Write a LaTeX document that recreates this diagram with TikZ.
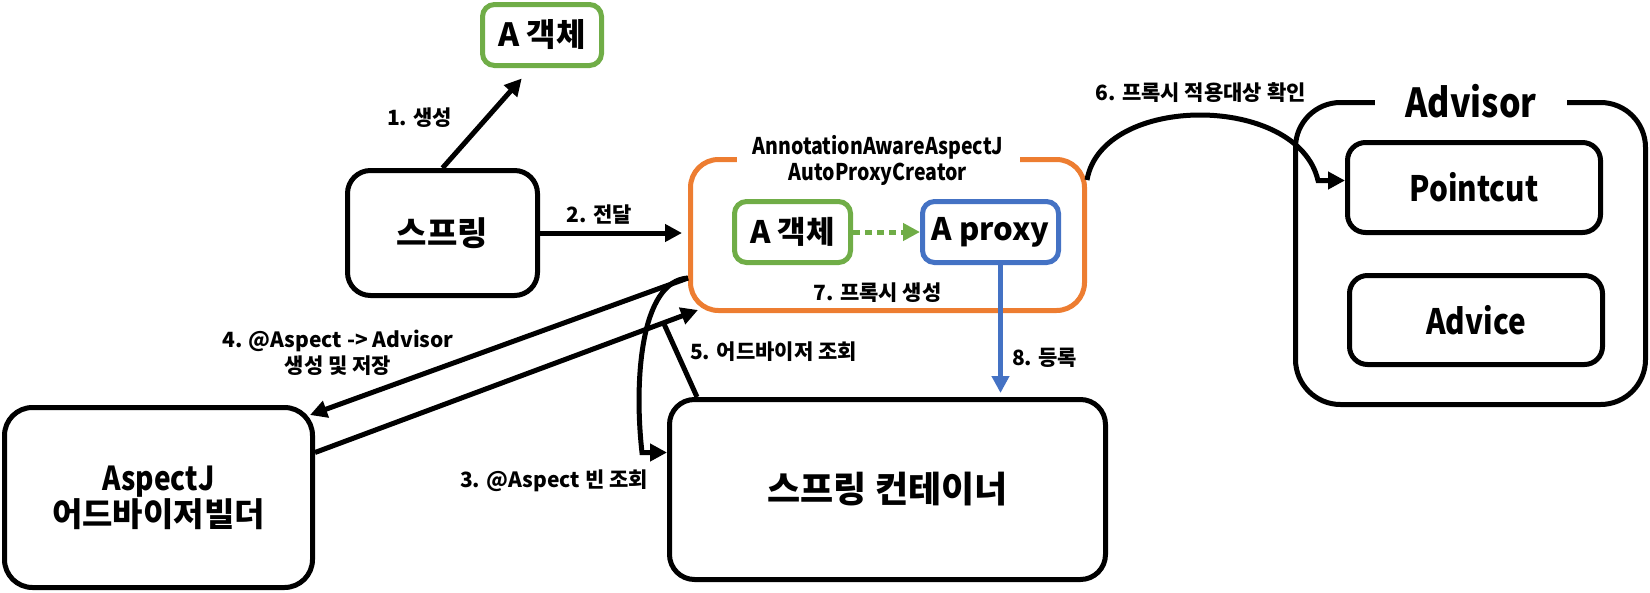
\documentclass[tikz,border=0pt]{standalone}
\usepackage{fontspec}
\setmainfont{Noto Sans CJK KR}
\newfontfamily\lat{Noto Sans CJK KR}[FakeStretch=0.85]
\usetikzlibrary{arrows.meta}
\definecolor{grn}{HTML}{70AD47}
\definecolor{org}{HTML}{ED7D31}
\definecolor{blu}{HTML}{4472C4}
\newcommand{\fsz}[1]{\fontsize{#1}{#1}\selectfont}

\begin{document}
\begin{tikzpicture}[x=1pt,y=-1pt,
  box/.style={draw,line width=5pt,rounded corners=#1,align=center},
  box/.default=24pt,
  lbl/.style={font=\bfseries\fontsize{21}{26}\selectfont,align=center,inner sep=0pt},
  arr/.style={line width=5pt,-{Triangle[length=17pt,width=17pt]}}]

\useasboundingbox (0,0) rectangle (1650,592);

% boxes
\node[box=12pt,draw=grn,minimum width=119pt,minimum height=61pt,font=\bfseries\fsz{32}] (ao) at (542,35) {A 객체};
\node[box=23pt,minimum width=190pt,minimum height=125pt,font=\bfseries\fsz{33}] (sp) at (442.5,233) {스프링};
\node[box=28pt,draw=org,minimum width=394pt,minimum height=151pt] (apc) at (887.5,235) {};
\node[box=12pt,draw=grn,minimum width=116pt,minimum height=61pt,font=\bfseries\fsz{31}] (ao2) at (792.5,232) {A 객체};
\node[box=12pt,draw=blu,minimum width=136pt,minimum height=61pt,font=\bfseries\fsz{31}] (ap) at (990.5,232) {A proxy};
\node[box=25pt,minimum width=436pt,minimum height=180pt,font=\bfseries\fsz{36}] (sc) at (887.5,489.5) {스프링 컨테이너};
\node[box=28pt,minimum width=308pt,minimum height=180pt,font=\bfseries\fontsize{33}{36}\selectfont] (ab) at (158.5,497.5) {{\lat AspectJ}\\어드바이저빌더};
\node[box=45pt,minimum width=350pt,minimum height=302pt] (adv) at (1470.5,253.5) {};
\node[box=18pt,minimum width=253pt,minimum height=90pt,font=\bfseries\lat\fsz{35}] (pc) at (1474,187.5) {Pointcut};
\node[box=18pt,minimum width=253pt,minimum height=89pt,font=\bfseries\lat\fsz{35}] (ad) at (1476,320) {Advice};

% titles cut into the frames
\node[fill=white,inner sep=0pt,minimum width=283pt,align=center,font=\bfseries\lat\fontsize{23}{26}\selectfont] (apct) at (878,160) {AnnotationAwareAspectJ\\AutoProxyCreator};
\node[fill=white,inner sep=0pt,minimum width=192pt,font=\bfseries\lat\fsz{40}] (advt) at (1471,101) {Advisor};

% arrows
\draw[arr,shorten >=14pt] (sp.north) -- node[lbl,left=32pt] (l1) {1. 생성} ([xshift=-11pt]ao.south);
\draw[arr,shorten >=6pt] (sp.east) -- node[lbl,above=6pt,pos=0.4] (l2) {2. 전달} (sp.east -| apc.west);

\coordinate (s34) at ([yshift=-43pt]apc.west);
\draw[arr] (s34) .. controls +(-48,3) and +(-8,-70) .. ([shift={(-25,-37)}]sc.west) -- ([yshift=37pt]sc.west);
\draw[arr] (s34) -- ([shift={(-5,10)}]ab.north east);
\draw[arr] ([yshift=45pt]ab.east) -- coordinate[pos=0.91] (j5) ([shift={(10,-3)}]apc.south west);
\draw[line width=5pt] ([xshift=30pt]sc.north west) -- (j5);

\draw[arr,draw=grn,dash pattern=on 7pt off 5pt] (ao2.east) -- (ap.west);

\coordinate (b8) at ([xshift=10pt]ap.south);
\draw[arr,draw=blu,shorten >=4pt] (b8) -- node[lbl,pos=0.7,right=9pt] (l8) {8. 등록} (b8 |- sc.north);

\draw[arr] ([yshift=55pt]apc.east) .. controls +(15,-87) and +(-20,-87) .. ([shift={(-27,-7)}]pc.west) node[lbl,pos=0.5,above=10pt] (l6) {6. 프록시 적용대상 확인} -- ([yshift=7pt]pc.west);

% labels
\node[lbl,anchor=east] (l3) at ([shift={(-19,-9)}]sc.west) {3. @Aspect 빈 조회};
\node[lbl] (l4) at ([shift={(23,-52)}]ab.north east) {4. @Aspect -> Advisor\\생성 및 저장};
\node[lbl,anchor=west] (l5) at ([shift={(23,-45)}]sc.north west) {5. 어드바이저 조회};
\node[lbl] (l7) at ([shift={(-10,-20)}]apc.south) {7. 프록시 생성};
\end{tikzpicture}
\end{document}
